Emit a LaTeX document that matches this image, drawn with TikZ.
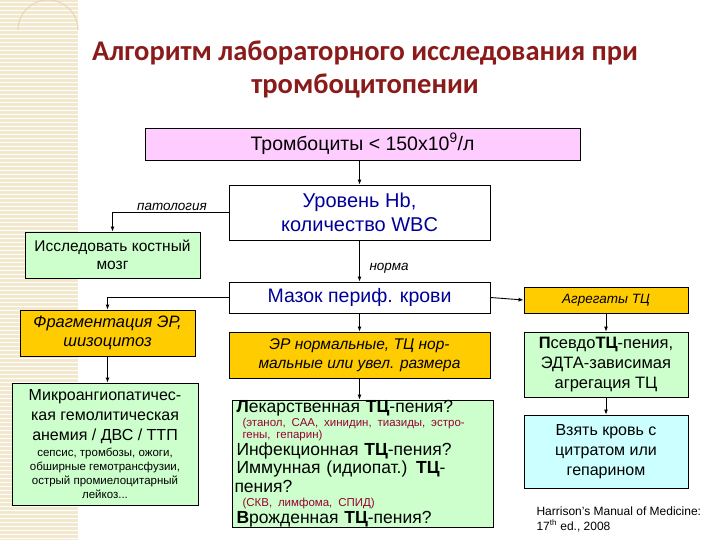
\documentclass[tikz,border=0pt]{standalone}
\usepackage{fontspec}
\setmainfont{Liberation Sans}
\newfontfamily\titlefont{Carlito}
\usetikzlibrary{arrows.meta}
\definecolor{pinkb}{HTML}{FFCCFF}
\definecolor{greenb}{HTML}{CCFFCC}
\definecolor{orangeb}{HTML}{FFCC00}
\definecolor{cyanb}{HTML}{CCFFFF}
\definecolor{bluet}{HTML}{000099}
\definecolor{redt}{HTML}{990033}
\definecolor{titlec}{HTML}{8B1A1A}
\definecolor{stripe}{HTML}{F2E8CE}
\begin{document}
\begin{tikzpicture}[x=1pt,y=-1pt,
  box/.style={draw,line width=0.8pt,align=center,inner sep=2pt},
  arr/.style={-{Latex[length=5pt,width=4pt]},line width=0.9pt},
  lbl/.style={font=\fontsize{13.5}{14}\selectfont\itshape}]
\useasboundingbox (0,0) rectangle (720,540);
\fill[white] (0,0) rectangle (720,540);
\fill[stripe] (0,0) rectangle (78,540);
\foreach \i in {2,6,...,538} \draw[white,line width=0.6pt] (0,\i) -- (78,\i);
\draw[stripe!85!brown,line width=1.2pt] (78,30) arc[start angle=0,end angle=-180,radius=30];
\node[font=\titlefont\bfseries\fontsize{28.5}{33}\selectfont,text=titlec,align=center] (title) at (365,69)
  {Алгоритм лабораторного исследования при\\тромбоцитопении};
\node[box,fill=pinkb,minimum width=435,minimum height=32,font=\fontsize{19.5}{21}\selectfont] (pink) at (362.5,144) {Тромбоциты < 150x10\textsuperscript{9}/л};
\node[box,fill=white,minimum width=261,minimum height=55,text=bluet,font=\fontsize{20}{24}\selectfont] (hb) at (359.5,212.5) {Уровень Hb,\\количество WBC};
\node[box,fill=greenb,minimum width=175,minimum height=46,font=\fontsize{15.5}{18}\selectfont] (bm) at (112.5,255) {Исследовать костный\\мозг};
\node[box,fill=white,minimum width=261,minimum height=31,text=bluet,font=\fontsize{19.5}{22}\selectfont] (maz) at (359.5,297.5) {Мазок периф. крови};
\node[box,fill=orangeb,minimum width=164,minimum height=26,font=\fontsize{13.5}{15}\selectfont\itshape] (agg) at (606,300) {Агрегаты ТЦ};
\node[box,fill=orangeb,minimum width=175,minimum height=46,font=\fontsize{16.5}{19}\selectfont\itshape] (frag) at (107.5,333) {Фрагментация ЭР,\\шизоцитоз};
\node[box,fill=orangeb,minimum width=261,minimum height=46,font=\fontsize{15.5}{19}\selectfont\itshape] (er) at (359.5,355) {ЭР нормальные, ТЦ нор-\\мальные или увел. размера};
\node[box,fill=greenb,minimum width=164,minimum height=65,font=\fontsize{16.5}{20}\selectfont] (ps) at (606,364.5) {\textbf{П}севдо\textbf{ТЦ}-пения,\\ЭДТА-зависимая\\агрегация ТЦ};
\node[box,fill=greenb,minimum width=186,minimum height=122,font=\fontsize{16}{20}\selectfont] (mi) at (105,444)
  {Микроангиопатичес-\\кая гемолитическая\\анемия / ДВС / ТТП\\[-4pt]
   {\fontsize{11.5}{14}\selectfont сепсис, тромбозы, ожоги,}\\[-6pt]
   {\fontsize{11.5}{14}\selectfont обширные гемотрансфузии,}\\[-6pt]
   {\fontsize{11.5}{14}\selectfont острый промиелоцитарный}\\[-6pt]
   {\fontsize{11.5}{14}\selectfont лейкоз...}};
\node[box,fill=greenb,minimum width=261,minimum height=127,text width=256,inner sep=0pt,align=left,font=\fontsize{17.5}{19}\selectfont] (dr) at (362.5,463.5)
  {\hspace*{2pt}\textbf{Л}екарственная \textbf{ТЦ}-пения?\\[-5pt]
   \hspace*{8pt}{\color{redt}\fontsize{11.5}{13}\selectfont (этанол, САА, хинидин, тиазиды, эстро-}\\[-7pt]
   \hspace*{8pt}{\color{redt}\fontsize{11.5}{13}\selectfont гены, гепарин)}\\[-2pt]
   \hspace*{2pt}Инфекционная \textbf{ТЦ}-пения?\\[-1pt]
   \hspace*{2pt}Иммунная (идиопат.) \textbf{ТЦ}-пения?\\[-5pt]
   \hspace*{8pt}{\color{redt}\fontsize{11.5}{13}\selectfont (СКВ, лимфома, СПИД)}\\[-2pt]
   \hspace*{2pt}\textbf{В}рожденная \textbf{ТЦ}-пения?};
\node[box,fill=cyanb,minimum width=164,minimum height=73,font=\fontsize{16}{20}\selectfont] (bl) at (606,451.5) {Взять кровь с\\цитратом или\\гепарином};
\node[font=\fontsize{12}{15}\selectfont,align=left,anchor=west] (ref) at (533,519) {Harrison's Manual of Medicine:\\ 17\textsuperscript{th} ed., 2008};
\draw[arr] (pink.south -| hb.north) -- (hb.north);
\draw[arr] (hb.west) -| (bm.north);
\node[lbl,anchor=south] (pat) at (172,214) {патология};
\draw[arr] (hb.south) -- (maz.north);
\node[lbl,anchor=west] (norm) at (366,268) {норма};
\draw[arr] (maz.west) -| (frag.north);
\draw[arr] (maz.east) -- (agg.west);
\draw[arr] (maz.south) -- (er.north);
\draw[arr] (agg.south) -- (ps.north);
\draw[arr] (frag.south) -- (frag.south |- mi.north);
\draw[arr] (er.south) -- (er.south |- dr.north);
\draw[arr] (ps.south) -- (bl.north);
\end{tikzpicture}
\end{document}
